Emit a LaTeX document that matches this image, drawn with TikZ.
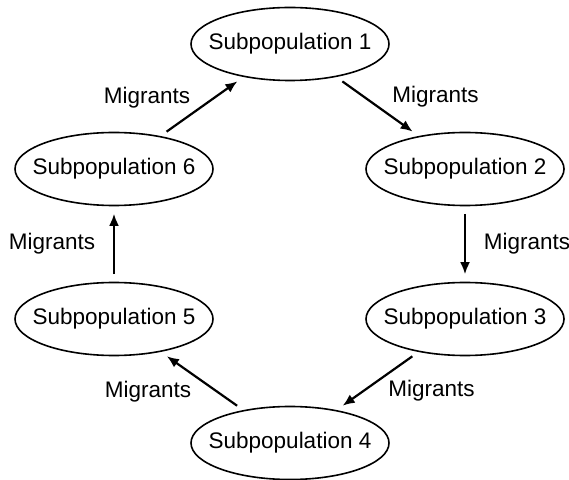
\documentclass[tikz,border=0pt]{standalone}
\usepackage{fontspec}
\setmainfont{Liberation Sans}
\usetikzlibrary{shapes.geometric}
\usetikzlibrary{arrows.meta}

\begin{document}
\begin{tikzpicture}[x=1pt, y=1pt,
    font=\fontsize{22.5}{27}\selectfont,
    subpop/.style = {ellipse, draw, line width=1.6pt,
                minimum width=198pt, minimum height=73pt,
                inner xsep=-16pt, inner ysep=0pt},
    mig/.style = {-{Latex[length=12pt,width=10pt]}, line width=2.2pt,
                shorten >=7.5pt, shorten <=7.5pt}  % gap between arrow and ellipse
                    ]
        \useasboundingbox (0,0) rectangle (569,479);
        \foreach \x/\y/\v/\n in {290/435/a/1, 465/310/b/2, 465/160/c/3, 290/36/d/4, 114/160/e/5, 114/310/f/6}
            \node[subpop] at (\x,\y) (\v) {Subpopulation \n};
        \draw [mig] (a) -- (b) node[midway, xshift=58pt, yshift=10pt] {Migrants};
        \draw [mig] (b) -- (c) node[midway, xshift=62pt] {Migrants};
        \draw [mig] (c) -- (d) node[midway, xshift=54pt, yshift=-10pt] {Migrants};
        \draw [mig] (d) -- (e) node[midway, xshift=-54pt, yshift=-11pt] {Migrants};
        \draw [mig] (e) -- (f) node[midway, xshift=-62pt] {Migrants};
        \draw [mig] (f) -- (a) node[midway, xshift=-55pt, yshift=9pt] {Migrants};
    \end{tikzpicture}
\end{document}
